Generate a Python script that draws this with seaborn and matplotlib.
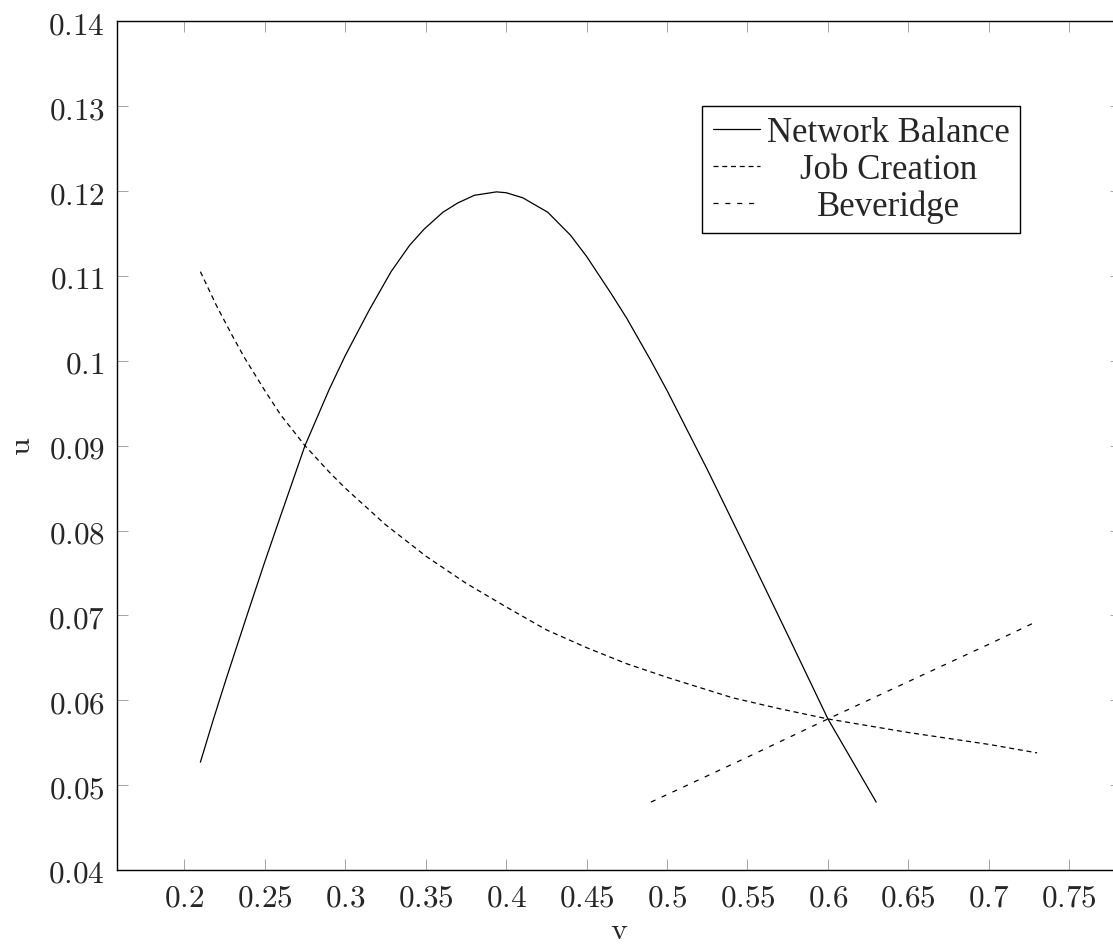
import matplotlib
matplotlib.use("Agg")
import matplotlib.pyplot as plt
import matplotlib.transforms as mtransforms
from matplotlib.ticker import FuncFormatter
import seaborn as sns
import pandas as pd

# values
nb_v = [0.21, 0.218, 0.226, 0.24, 0.25, 0.26, 0.275, 0.29, 0.30, 0.315, 0.3285,
        0.34, 0.349, 0.3607, 0.37, 0.3803, 0.394, 0.4001, 0.4104, 0.4259, 0.44,
        0.45, 0.465, 0.475, 0.49, 0.50, 0.525, 0.55, 0.575, 0.60, 0.615, 0.63]
nb_u = [0.0527, 0.0577, 0.0625, 0.0706, 0.0763, 0.0818, 0.0900, 0.0966, 0.1006,
        0.1060, 0.1105, 0.1136, 0.1155, 0.1175, 0.1186, 0.1195, 0.1199, 0.1198,
        0.1192, 0.1175, 0.1148, 0.1123, 0.1080, 0.1050, 0.1000, 0.0965, 0.0872,
        0.0775, 0.0677, 0.0578, 0.0529, 0.0480]

jc_v = [0.21, 0.22, 0.23, 0.2373, 0.25, 0.26, 0.275, 0.29, 0.30, 0.325, 0.35,
        0.375, 0.40, 0.425, 0.45, 0.475, 0.50, 0.5406, 0.57, 0.60, 0.65, 0.70, 0.73]
jc_u = [0.1105, 0.1065, 0.1029, 0.1004, 0.0965, 0.0936, 0.0900, 0.0869, 0.0850,
        0.0807, 0.0770, 0.0738, 0.0710, 0.0683, 0.0662, 0.0643, 0.0627, 0.0603,
        0.0590, 0.0578, 0.0562, 0.0548, 0.0538]

bv_v = [0.49, 0.55, 0.60, 0.65, 0.70, 0.73]
bv_u = [0.0480, 0.0533, 0.0578, 0.0622, 0.0666, 0.0693]

labels = ["Network Balance", "Job Creation", "Beveridge"]
x_ticks = [0.2, 0.25, 0.3, 0.35, 0.4, 0.45, 0.5, 0.55, 0.6, 0.65, 0.7, 0.75]
y_ticks = [0.04, 0.05, 0.06, 0.07, 0.08, 0.09, 0.1, 0.11, 0.12, 0.13, 0.14]

df = pd.concat([
    pd.DataFrame({"v": nb_v, "u": nb_u, "curve": labels[0]}),
    pd.DataFrame({"v": jc_v, "u": jc_u, "curve": labels[1]}),
    pd.DataFrame({"v": bv_v, "u": bv_u, "curve": labels[2]}),
])

sns.set_style("ticks")
plt.rcParams["mathtext.fontset"] = "cm"
plt.rcParams["font.family"] = ["DejaVu Serif"]

W, H = 1113, 945
fig = plt.figure(figsize=(W / 100, H / 100), dpi=100)
# axes box in pixels (right spine sits just past the image edge)
left, right, top, bottom = 116.7, 1120.8, 22.3, 871.0
ax = fig.add_axes([left / W, 1 - bottom / H, (right - left) / W, (bottom - top) / H])

dash_styles = {labels[0]: "", labels[1]: (4, 3), labels[2]: (4, 5.5)}
for name in labels:
    sub = df[df["curve"] == name]
    sns.lineplot(data=sub, x="v", y="u", ax=ax, color="black", linewidth=0.9,
                 sort=False, estimator=None, label=name, dashes=False)
for line, name in zip(ax.get_lines(), labels):
    if dash_styles[name]:
        line.set_dashes(dash_styles[name])

ax.set_xlim(0.158, 0.782)
ax.set_ylim(0.04, 0.14)
ax.set_xticks(x_ticks)
ax.set_yticks(y_ticks)
fmt = FuncFormatter(lambda val, pos: f"${val:g}$")
ax.xaxis.set_major_formatter(fmt)
ax.yaxis.set_major_formatter(fmt)

ax.tick_params(axis="both", which="major", direction="in", length=8, width=0.5,
               color="#808080", labelsize=22.5, pad=8.5,
               top=True, right=True)
for sp in ax.spines.values():
    sp.set_visible(True)
    sp.set_linewidth(1.0)
    sp.set_color("black")

ax.set_xlabel(r"$\mathrm{v}$", fontsize=23, labelpad=1)
ax.set_ylabel(r"$\mathrm{u}$", fontsize=23, labelpad=8)

leg = ax.legend(loc="upper right", bbox_to_anchor=(1020 / W, 1 - 107 / H),
                bbox_transform=fig.transFigure, borderaxespad=0,
                frameon=True, fancybox=False, shadow=False, framealpha=1,
                edgecolor="black", handlelength=1.36, handletextpad=0.2,
                labelspacing=0.1, borderpad=0.3,
                prop={"family": "Liberation Serif", "size": 25})
leg.get_frame().set_linewidth(1.0)
for h, name in zip(leg.get_lines(), labels):
    if dash_styles[name]:
        h.set_dashes(dash_styles[name])

# centre the legend labels in their column, like the original
fig.canvas.draw()
r = fig.canvas.get_renderer()
texts = leg.get_texts()
widths = [t.get_window_extent(r).width for t in texts]
wmax = max(widths)
for t, w in zip(texts, widths):
    dx = (wmax - w) / 2
    t.set_transform(t.get_transform() + mtransforms.Affine2D().translate(dx, 0))

fig.savefig("out.png", dpi=100)
